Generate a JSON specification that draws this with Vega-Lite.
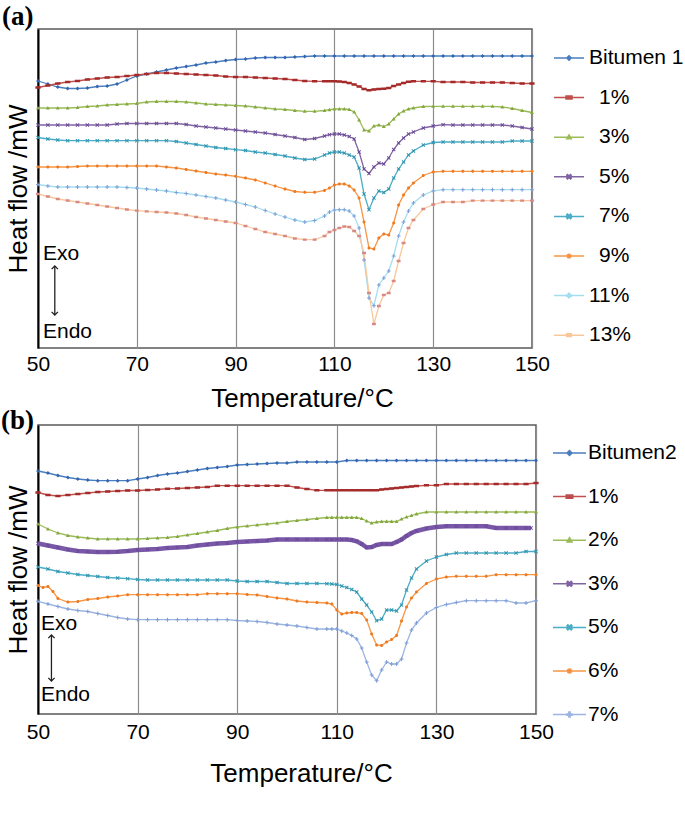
{
"$schema":"https://vega.github.io/schema/vega-lite/v6.json",
"background":"white",
"padding":{"left":0,"top":2,"right":0,"bottom":0},
"config":{"font":"Liberation Sans","view":{"stroke":"#5a5a5a","strokeWidth":1.5},
"axis":{"labelFont":"Liberation Sans","titleFont":"Liberation Sans","labelColor":"black","titleColor":"black","titleFontWeight":"normal"}},
"bounds":"flush","spacing":77,
"resolve":{"scale":{"stroke":"independent","fill":"independent","shape":"independent"},"legend":{"stroke":"independent"}},
"datasets":{
"a":[
{"s":"Bitumen 1","t":50,"h":267},{"s":"Bitumen 1","t":52,"h":264},{"s":"Bitumen 1","t":54,"h":261},{"s":"Bitumen 1","t":56,"h":259.5},{"s":"Bitumen 1","t":58,"h":259.5},{"s":"Bitumen 1","t":60,"h":260},{"s":"Bitumen 1","t":62,"h":261.5},{"s":"Bitumen 1","t":64,"h":262},{"s":"Bitumen 1","t":66,"h":264},{"s":"Bitumen 1","t":68,"h":268},{"s":"Bitumen 1","t":70,"h":272},{"s":"Bitumen 1","t":72,"h":274},{"s":"Bitumen 1","t":74,"h":276},{"s":"Bitumen 1","t":76,"h":278},{"s":"Bitumen 1","t":78,"h":280},{"s":"Bitumen 1","t":80,"h":281.5},{"s":"Bitumen 1","t":82,"h":283},{"s":"Bitumen 1","t":84,"h":285},{"s":"Bitumen 1","t":86,"h":286},{"s":"Bitumen 1","t":88,"h":287.5},{"s":"Bitumen 1","t":90,"h":288.5},{"s":"Bitumen 1","t":92,"h":289},{"s":"Bitumen 1","t":94,"h":290},{"s":"Bitumen 1","t":96,"h":290.5},{"s":"Bitumen 1","t":98,"h":290.5},{"s":"Bitumen 1","t":100,"h":290.5},{"s":"Bitumen 1","t":102,"h":291},{"s":"Bitumen 1","t":104,"h":291.5},{"s":"Bitumen 1","t":106,"h":292},{"s":"Bitumen 1","t":108,"h":292},{"s":"Bitumen 1","t":110,"h":292},{"s":"Bitumen 1","t":112,"h":292},{"s":"Bitumen 1","t":114,"h":292},{"s":"Bitumen 1","t":116,"h":292},{"s":"Bitumen 1","t":118,"h":292},{"s":"Bitumen 1","t":120,"h":292},{"s":"Bitumen 1","t":122,"h":292},{"s":"Bitumen 1","t":124,"h":292},{"s":"Bitumen 1","t":126,"h":292},{"s":"Bitumen 1","t":128,"h":292},{"s":"Bitumen 1","t":130,"h":292},{"s":"Bitumen 1","t":132,"h":292},{"s":"Bitumen 1","t":134,"h":292},{"s":"Bitumen 1","t":136,"h":292},{"s":"Bitumen 1","t":138,"h":292},{"s":"Bitumen 1","t":140,"h":292},{"s":"Bitumen 1","t":142,"h":292},{"s":"Bitumen 1","t":144,"h":292},{"s":"Bitumen 1","t":146,"h":292},{"s":"Bitumen 1","t":148,"h":292},{"s":"Bitumen 1","t":150,"h":292},
{"s":"1%","t":50,"h":260.5},{"s":"1%","t":52,"h":262.5},{"s":"1%","t":54,"h":264.5},{"s":"1%","t":56,"h":266},{"s":"1%","t":58,"h":267},{"s":"1%","t":60,"h":268.5},{"s":"1%","t":62,"h":269.5},{"s":"1%","t":64,"h":270.5},{"s":"1%","t":66,"h":271},{"s":"1%","t":68,"h":272},{"s":"1%","t":70,"h":273},{"s":"1%","t":72,"h":274},{"s":"1%","t":74,"h":275},{"s":"1%","t":76,"h":275},{"s":"1%","t":78,"h":274.5},{"s":"1%","t":80,"h":274},{"s":"1%","t":82,"h":273.5},{"s":"1%","t":84,"h":273},{"s":"1%","t":86,"h":272.5},{"s":"1%","t":88,"h":271.5},{"s":"1%","t":90,"h":271},{"s":"1%","t":92,"h":271},{"s":"1%","t":94,"h":270.5},{"s":"1%","t":96,"h":270},{"s":"1%","t":98,"h":269.5},{"s":"1%","t":100,"h":269},{"s":"1%","t":102,"h":268},{"s":"1%","t":104,"h":267},{"s":"1%","t":106,"h":266.7},{"s":"1%","t":108,"h":266.7},{"s":"1%","t":109,"h":266.7},{"s":"1%","t":110,"h":266.7},{"s":"1%","t":111,"h":266.5},{"s":"1%","t":112,"h":266},{"s":"1%","t":113,"h":265},{"s":"1%","t":114,"h":263.5},{"s":"1%","t":115,"h":261.5},{"s":"1%","t":116,"h":259},{"s":"1%","t":117,"h":257.7},{"s":"1%","t":118,"h":258.5},{"s":"1%","t":119,"h":259},{"s":"1%","t":120,"h":259.3},{"s":"1%","t":121,"h":260},{"s":"1%","t":122,"h":262},{"s":"1%","t":123,"h":263.5},{"s":"1%","t":124,"h":265},{"s":"1%","t":125,"h":266.2},{"s":"1%","t":126,"h":266.7},{"s":"1%","t":128,"h":266.7},{"s":"1%","t":130,"h":266.7},{"s":"1%","t":132,"h":266},{"s":"1%","t":134,"h":266},{"s":"1%","t":136,"h":266},{"s":"1%","t":138,"h":265.5},{"s":"1%","t":140,"h":265.5},{"s":"1%","t":142,"h":265.5},{"s":"1%","t":144,"h":265.5},{"s":"1%","t":146,"h":265},{"s":"1%","t":148,"h":264.5},{"s":"1%","t":150,"h":264.5},
{"s":"3%","t":50,"h":240},{"s":"3%","t":52,"h":240},{"s":"3%","t":54,"h":240},{"s":"3%","t":56,"h":240},{"s":"3%","t":58,"h":240.5},{"s":"3%","t":60,"h":241.5},{"s":"3%","t":62,"h":242},{"s":"3%","t":64,"h":243},{"s":"3%","t":66,"h":243.5},{"s":"3%","t":68,"h":244},{"s":"3%","t":70,"h":244.5},{"s":"3%","t":72,"h":246},{"s":"3%","t":74,"h":246.5},{"s":"3%","t":76,"h":246.5},{"s":"3%","t":78,"h":246.5},{"s":"3%","t":80,"h":246},{"s":"3%","t":82,"h":245},{"s":"3%","t":84,"h":244},{"s":"3%","t":86,"h":243.5},{"s":"3%","t":88,"h":243},{"s":"3%","t":90,"h":242.5},{"s":"3%","t":92,"h":242},{"s":"3%","t":94,"h":241},{"s":"3%","t":96,"h":240},{"s":"3%","t":98,"h":239},{"s":"3%","t":100,"h":238.5},{"s":"3%","t":102,"h":237.5},{"s":"3%","t":104,"h":236.7},{"s":"3%","t":106,"h":236.7},{"s":"3%","t":108,"h":237.5},{"s":"3%","t":109,"h":238.3},{"s":"3%","t":110,"h":239},{"s":"3%","t":111,"h":239},{"s":"3%","t":112,"h":239},{"s":"3%","t":113,"h":238.5},{"s":"3%","t":114,"h":236},{"s":"3%","t":115,"h":228},{"s":"3%","t":116,"h":218},{"s":"3%","t":117,"h":217},{"s":"3%","t":118,"h":222},{"s":"3%","t":119,"h":223},{"s":"3%","t":120,"h":221.5},{"s":"3%","t":121,"h":224},{"s":"3%","t":122,"h":229},{"s":"3%","t":123,"h":234},{"s":"3%","t":124,"h":237},{"s":"3%","t":125,"h":239},{"s":"3%","t":126,"h":240},{"s":"3%","t":128,"h":241.5},{"s":"3%","t":130,"h":241.7},{"s":"3%","t":132,"h":241.7},{"s":"3%","t":134,"h":241.7},{"s":"3%","t":136,"h":241.7},{"s":"3%","t":138,"h":241.7},{"s":"3%","t":140,"h":241.7},{"s":"3%","t":142,"h":241.7},{"s":"3%","t":144,"h":241},{"s":"3%","t":146,"h":239.5},{"s":"3%","t":148,"h":237.5},{"s":"3%","t":150,"h":235.5},
{"s":"5%","t":50,"h":223},{"s":"5%","t":52,"h":223},{"s":"5%","t":54,"h":223},{"s":"5%","t":56,"h":223},{"s":"5%","t":58,"h":223},{"s":"5%","t":60,"h":223},{"s":"5%","t":62,"h":223},{"s":"5%","t":64,"h":223},{"s":"5%","t":66,"h":224},{"s":"5%","t":68,"h":224.5},{"s":"5%","t":70,"h":224.5},{"s":"5%","t":72,"h":224.5},{"s":"5%","t":74,"h":224.5},{"s":"5%","t":76,"h":224.5},{"s":"5%","t":78,"h":224.5},{"s":"5%","t":80,"h":223.5},{"s":"5%","t":82,"h":222},{"s":"5%","t":84,"h":221},{"s":"5%","t":86,"h":220},{"s":"5%","t":88,"h":219},{"s":"5%","t":90,"h":218},{"s":"5%","t":92,"h":217},{"s":"5%","t":94,"h":216},{"s":"5%","t":96,"h":215},{"s":"5%","t":98,"h":213.5},{"s":"5%","t":100,"h":212},{"s":"5%","t":102,"h":210.5},{"s":"5%","t":104,"h":208.5},{"s":"5%","t":106,"h":209.5},{"s":"5%","t":108,"h":212},{"s":"5%","t":109,"h":213.3},{"s":"5%","t":110,"h":214},{"s":"5%","t":111,"h":214},{"s":"5%","t":112,"h":213},{"s":"5%","t":113,"h":211.5},{"s":"5%","t":114,"h":209},{"s":"5%","t":115,"h":196},{"s":"5%","t":116,"h":179},{"s":"5%","t":117,"h":174.5},{"s":"5%","t":118,"h":181},{"s":"5%","t":119,"h":185},{"s":"5%","t":120,"h":184},{"s":"5%","t":121,"h":190},{"s":"5%","t":122,"h":198.5},{"s":"5%","t":123,"h":205},{"s":"5%","t":124,"h":210},{"s":"5%","t":125,"h":214},{"s":"5%","t":126,"h":216},{"s":"5%","t":128,"h":220},{"s":"5%","t":130,"h":222},{"s":"5%","t":132,"h":223.3},{"s":"5%","t":134,"h":223},{"s":"5%","t":136,"h":223},{"s":"5%","t":138,"h":223},{"s":"5%","t":140,"h":223},{"s":"5%","t":142,"h":223},{"s":"5%","t":144,"h":223},{"s":"5%","t":146,"h":222},{"s":"5%","t":148,"h":220.5},{"s":"5%","t":150,"h":219},
{"s":"7%","t":50,"h":210.5},{"s":"7%","t":52,"h":209},{"s":"7%","t":54,"h":208},{"s":"7%","t":56,"h":207.3},{"s":"7%","t":58,"h":207.3},{"s":"7%","t":60,"h":207.3},{"s":"7%","t":62,"h":207.3},{"s":"7%","t":64,"h":207.3},{"s":"7%","t":66,"h":207.3},{"s":"7%","t":68,"h":207.3},{"s":"7%","t":70,"h":207.3},{"s":"7%","t":72,"h":207.3},{"s":"7%","t":74,"h":207.3},{"s":"7%","t":76,"h":207.3},{"s":"7%","t":78,"h":206.5},{"s":"7%","t":80,"h":205},{"s":"7%","t":82,"h":203.5},{"s":"7%","t":84,"h":202},{"s":"7%","t":86,"h":200.5},{"s":"7%","t":88,"h":199.5},{"s":"7%","t":90,"h":198.3},{"s":"7%","t":92,"h":197.5},{"s":"7%","t":94,"h":196},{"s":"7%","t":96,"h":195},{"s":"7%","t":98,"h":193.5},{"s":"7%","t":100,"h":192},{"s":"7%","t":102,"h":190},{"s":"7%","t":104,"h":188.5},{"s":"7%","t":106,"h":189},{"s":"7%","t":108,"h":193},{"s":"7%","t":109,"h":195},{"s":"7%","t":110,"h":196},{"s":"7%","t":111,"h":196},{"s":"7%","t":112,"h":195},{"s":"7%","t":113,"h":193},{"s":"7%","t":114,"h":191},{"s":"7%","t":115,"h":180},{"s":"7%","t":116,"h":154},{"s":"7%","t":117,"h":138.3},{"s":"7%","t":118,"h":150},{"s":"7%","t":119,"h":157},{"s":"7%","t":120,"h":155.5},{"s":"7%","t":121,"h":159},{"s":"7%","t":122,"h":170},{"s":"7%","t":123,"h":179},{"s":"7%","t":124,"h":186},{"s":"7%","t":125,"h":193},{"s":"7%","t":126,"h":197},{"s":"7%","t":128,"h":203},{"s":"7%","t":130,"h":205.5},{"s":"7%","t":132,"h":206},{"s":"7%","t":134,"h":206},{"s":"7%","t":136,"h":206},{"s":"7%","t":138,"h":206},{"s":"7%","t":140,"h":206},{"s":"7%","t":142,"h":206},{"s":"7%","t":144,"h":206},{"s":"7%","t":146,"h":207},{"s":"7%","t":148,"h":207},{"s":"7%","t":150,"h":207},
{"s":"9%","t":50,"h":181},{"s":"9%","t":52,"h":181},{"s":"9%","t":54,"h":181},{"s":"9%","t":56,"h":181},{"s":"9%","t":58,"h":181.5},{"s":"9%","t":60,"h":182},{"s":"9%","t":62,"h":182},{"s":"9%","t":64,"h":182},{"s":"9%","t":66,"h":182},{"s":"9%","t":68,"h":182},{"s":"9%","t":70,"h":182},{"s":"9%","t":72,"h":182},{"s":"9%","t":74,"h":182},{"s":"9%","t":76,"h":181},{"s":"9%","t":78,"h":180},{"s":"9%","t":80,"h":178.5},{"s":"9%","t":82,"h":177},{"s":"9%","t":84,"h":175.5},{"s":"9%","t":86,"h":174},{"s":"9%","t":88,"h":173},{"s":"9%","t":90,"h":171.7},{"s":"9%","t":92,"h":170},{"s":"9%","t":94,"h":168},{"s":"9%","t":96,"h":165},{"s":"9%","t":98,"h":162},{"s":"9%","t":100,"h":159},{"s":"9%","t":102,"h":156.5},{"s":"9%","t":104,"h":155.7},{"s":"9%","t":106,"h":155.7},{"s":"9%","t":108,"h":157.5},{"s":"9%","t":109,"h":160},{"s":"9%","t":110,"h":163},{"s":"9%","t":111,"h":164},{"s":"9%","t":112,"h":164},{"s":"9%","t":113,"h":162},{"s":"9%","t":114,"h":158},{"s":"9%","t":115,"h":150},{"s":"9%","t":116,"h":126},{"s":"9%","t":117,"h":100},{"s":"9%","t":118,"h":99},{"s":"9%","t":119,"h":110},{"s":"9%","t":120,"h":114},{"s":"9%","t":121,"h":113},{"s":"9%","t":122,"h":125},{"s":"9%","t":123,"h":143},{"s":"9%","t":124,"h":153},{"s":"9%","t":125,"h":160},{"s":"9%","t":126,"h":165},{"s":"9%","t":128,"h":172.5},{"s":"9%","t":130,"h":176},{"s":"9%","t":132,"h":176.7},{"s":"9%","t":134,"h":176.7},{"s":"9%","t":136,"h":176.7},{"s":"9%","t":138,"h":176.7},{"s":"9%","t":140,"h":176.7},{"s":"9%","t":142,"h":176.7},{"s":"9%","t":144,"h":176.7},{"s":"9%","t":146,"h":176.7},{"s":"9%","t":148,"h":176.7},{"s":"9%","t":150,"h":176.7},
{"s":"11%","t":50,"h":163.5},{"s":"11%","t":52,"h":162},{"s":"11%","t":54,"h":161},{"s":"11%","t":56,"h":161},{"s":"11%","t":58,"h":161},{"s":"11%","t":60,"h":161},{"s":"11%","t":62,"h":161},{"s":"11%","t":64,"h":161},{"s":"11%","t":66,"h":161},{"s":"11%","t":68,"h":160.5},{"s":"11%","t":70,"h":160},{"s":"11%","t":72,"h":159},{"s":"11%","t":74,"h":158},{"s":"11%","t":76,"h":157},{"s":"11%","t":78,"h":155.5},{"s":"11%","t":80,"h":154.5},{"s":"11%","t":82,"h":153},{"s":"11%","t":84,"h":151.5},{"s":"11%","t":86,"h":150},{"s":"11%","t":88,"h":148},{"s":"11%","t":90,"h":146},{"s":"11%","t":92,"h":143.5},{"s":"11%","t":94,"h":141},{"s":"11%","t":96,"h":137.5},{"s":"11%","t":98,"h":134},{"s":"11%","t":100,"h":131},{"s":"11%","t":102,"h":128},{"s":"11%","t":104,"h":126},{"s":"11%","t":106,"h":127.5},{"s":"11%","t":108,"h":132},{"s":"11%","t":109,"h":136},{"s":"11%","t":110,"h":138},{"s":"11%","t":111,"h":138.3},{"s":"11%","t":112,"h":138.3},{"s":"11%","t":113,"h":137},{"s":"11%","t":114,"h":132},{"s":"11%","t":115,"h":120},{"s":"11%","t":116,"h":88},{"s":"11%","t":117,"h":50},{"s":"11%","t":118,"h":42.3},{"s":"11%","t":119,"h":63},{"s":"11%","t":120,"h":70},{"s":"11%","t":121,"h":77},{"s":"11%","t":122,"h":92},{"s":"11%","t":123,"h":112},{"s":"11%","t":124,"h":126},{"s":"11%","t":125,"h":137},{"s":"11%","t":126,"h":145},{"s":"11%","t":128,"h":153},{"s":"11%","t":130,"h":157},{"s":"11%","t":132,"h":158.3},{"s":"11%","t":134,"h":158.3},{"s":"11%","t":136,"h":158.3},{"s":"11%","t":138,"h":158.3},{"s":"11%","t":140,"h":158.3},{"s":"11%","t":142,"h":158.3},{"s":"11%","t":144,"h":158.3},{"s":"11%","t":146,"h":158.3},{"s":"11%","t":148,"h":158.3},{"s":"11%","t":150,"h":158.3},
{"s":"13%","t":50,"h":154},{"s":"13%","t":52,"h":151.5},{"s":"13%","t":54,"h":149},{"s":"13%","t":56,"h":147.5},{"s":"13%","t":58,"h":146},{"s":"13%","t":60,"h":144.5},{"s":"13%","t":62,"h":143},{"s":"13%","t":64,"h":141.5},{"s":"13%","t":66,"h":140},{"s":"13%","t":68,"h":138.5},{"s":"13%","t":70,"h":137.3},{"s":"13%","t":72,"h":136.7},{"s":"13%","t":74,"h":136},{"s":"13%","t":76,"h":135.5},{"s":"13%","t":78,"h":134.5},{"s":"13%","t":80,"h":133},{"s":"13%","t":82,"h":131},{"s":"13%","t":84,"h":129.5},{"s":"13%","t":86,"h":128},{"s":"13%","t":88,"h":126.5},{"s":"13%","t":90,"h":125},{"s":"13%","t":92,"h":122},{"s":"13%","t":94,"h":119},{"s":"13%","t":96,"h":116},{"s":"13%","t":98,"h":114},{"s":"13%","t":100,"h":112},{"s":"13%","t":102,"h":109.5},{"s":"13%","t":104,"h":108.3},{"s":"13%","t":106,"h":108.3},{"s":"13%","t":108,"h":112},{"s":"13%","t":109,"h":116},{"s":"13%","t":110,"h":118},{"s":"13%","t":111,"h":120},{"s":"13%","t":112,"h":121.5},{"s":"13%","t":113,"h":121},{"s":"13%","t":114,"h":117},{"s":"13%","t":115,"h":112},{"s":"13%","t":116,"h":95},{"s":"13%","t":117,"h":55},{"s":"13%","t":118,"h":24},{"s":"13%","t":119,"h":42},{"s":"13%","t":120,"h":53},{"s":"13%","t":121,"h":55},{"s":"13%","t":122,"h":67},{"s":"13%","t":123,"h":87},{"s":"13%","t":124,"h":105},{"s":"13%","t":125,"h":120},{"s":"13%","t":126,"h":128},{"s":"13%","t":128,"h":139},{"s":"13%","t":130,"h":143.5},{"s":"13%","t":132,"h":146},{"s":"13%","t":134,"h":146},{"s":"13%","t":136,"h":146},{"s":"13%","t":138,"h":147.3},{"s":"13%","t":140,"h":147.3},{"s":"13%","t":142,"h":147.3},{"s":"13%","t":144,"h":147.3},{"s":"13%","t":146,"h":147.3},{"s":"13%","t":148,"h":147.3},{"s":"13%","t":150,"h":147.3}
],
"b":[
{"s":"Bitumen2","t":50,"h":243},{"s":"Bitumen2","t":52,"h":241},{"s":"Bitumen2","t":54,"h":238.5},{"s":"Bitumen2","t":56,"h":236.5},{"s":"Bitumen2","t":58,"h":235},{"s":"Bitumen2","t":60,"h":234},{"s":"Bitumen2","t":62,"h":233.3},{"s":"Bitumen2","t":64,"h":233.3},{"s":"Bitumen2","t":66,"h":233.3},{"s":"Bitumen2","t":68,"h":233.3},{"s":"Bitumen2","t":70,"h":235},{"s":"Bitumen2","t":72,"h":236.5},{"s":"Bitumen2","t":74,"h":238.5},{"s":"Bitumen2","t":76,"h":240},{"s":"Bitumen2","t":78,"h":241},{"s":"Bitumen2","t":80,"h":242.5},{"s":"Bitumen2","t":82,"h":244},{"s":"Bitumen2","t":84,"h":245.5},{"s":"Bitumen2","t":86,"h":246.5},{"s":"Bitumen2","t":88,"h":247.5},{"s":"Bitumen2","t":90,"h":249},{"s":"Bitumen2","t":92,"h":249.5},{"s":"Bitumen2","t":94,"h":250},{"s":"Bitumen2","t":96,"h":250.5},{"s":"Bitumen2","t":98,"h":251},{"s":"Bitumen2","t":100,"h":251},{"s":"Bitumen2","t":102,"h":252},{"s":"Bitumen2","t":104,"h":252},{"s":"Bitumen2","t":106,"h":252},{"s":"Bitumen2","t":108,"h":252},{"s":"Bitumen2","t":110,"h":252},{"s":"Bitumen2","t":112,"h":253.5},{"s":"Bitumen2","t":114,"h":253.5},{"s":"Bitumen2","t":116,"h":253.5},{"s":"Bitumen2","t":118,"h":253.5},{"s":"Bitumen2","t":120,"h":253.5},{"s":"Bitumen2","t":122,"h":253.5},{"s":"Bitumen2","t":124,"h":253.5},{"s":"Bitumen2","t":126,"h":253.5},{"s":"Bitumen2","t":128,"h":253.5},{"s":"Bitumen2","t":130,"h":253.5},{"s":"Bitumen2","t":132,"h":253.5},{"s":"Bitumen2","t":134,"h":253.5},{"s":"Bitumen2","t":136,"h":253.5},{"s":"Bitumen2","t":138,"h":253.5},{"s":"Bitumen2","t":140,"h":253.5},{"s":"Bitumen2","t":142,"h":253.5},{"s":"Bitumen2","t":144,"h":253.5},{"s":"Bitumen2","t":146,"h":253.5},{"s":"Bitumen2","t":148,"h":253.5},{"s":"Bitumen2","t":150,"h":253.5},
{"s":"1%","t":50,"h":221.5},{"s":"1%","t":52,"h":219},{"s":"1%","t":54,"h":218},{"s":"1%","t":56,"h":219},{"s":"1%","t":58,"h":220},{"s":"1%","t":60,"h":221},{"s":"1%","t":62,"h":222},{"s":"1%","t":64,"h":222.5},{"s":"1%","t":66,"h":223},{"s":"1%","t":68,"h":223.5},{"s":"1%","t":70,"h":223.5},{"s":"1%","t":72,"h":224},{"s":"1%","t":74,"h":224.5},{"s":"1%","t":76,"h":225.3},{"s":"1%","t":78,"h":225.5},{"s":"1%","t":80,"h":226},{"s":"1%","t":82,"h":226.5},{"s":"1%","t":84,"h":227},{"s":"1%","t":86,"h":228.3},{"s":"1%","t":88,"h":228.3},{"s":"1%","t":90,"h":228.3},{"s":"1%","t":92,"h":228.3},{"s":"1%","t":94,"h":228.3},{"s":"1%","t":96,"h":228.3},{"s":"1%","t":98,"h":228.3},{"s":"1%","t":100,"h":228.3},{"s":"1%","t":102,"h":226.5},{"s":"1%","t":104,"h":225},{"s":"1%","t":106,"h":223.7},{"s":"1%","t":108,"h":223.7},{"s":"1%","t":109,"h":223.7},{"s":"1%","t":110,"h":223.7},{"s":"1%","t":111,"h":223.7},{"s":"1%","t":112,"h":223.7},{"s":"1%","t":113,"h":223.7},{"s":"1%","t":114,"h":223.7},{"s":"1%","t":115,"h":223.7},{"s":"1%","t":116,"h":223.7},{"s":"1%","t":117,"h":223.7},{"s":"1%","t":118,"h":223.7},{"s":"1%","t":119,"h":224.5},{"s":"1%","t":120,"h":225},{"s":"1%","t":121,"h":225.5},{"s":"1%","t":122,"h":226},{"s":"1%","t":123,"h":226.5},{"s":"1%","t":124,"h":227},{"s":"1%","t":125,"h":227.5},{"s":"1%","t":126,"h":228},{"s":"1%","t":128,"h":228.7},{"s":"1%","t":130,"h":228.7},{"s":"1%","t":132,"h":230},{"s":"1%","t":134,"h":230},{"s":"1%","t":136,"h":230},{"s":"1%","t":138,"h":230},{"s":"1%","t":140,"h":230},{"s":"1%","t":142,"h":230},{"s":"1%","t":144,"h":230},{"s":"1%","t":146,"h":230},{"s":"1%","t":148,"h":230},{"s":"1%","t":150,"h":231},
{"s":"2%","t":50,"h":190},{"s":"2%","t":52,"h":185},{"s":"2%","t":54,"h":181},{"s":"2%","t":56,"h":178.5},{"s":"2%","t":58,"h":177},{"s":"2%","t":60,"h":176},{"s":"2%","t":62,"h":175},{"s":"2%","t":64,"h":175},{"s":"2%","t":66,"h":175},{"s":"2%","t":68,"h":175},{"s":"2%","t":70,"h":175},{"s":"2%","t":72,"h":175.5},{"s":"2%","t":74,"h":176},{"s":"2%","t":76,"h":176.5},{"s":"2%","t":78,"h":177.5},{"s":"2%","t":80,"h":179},{"s":"2%","t":82,"h":180.5},{"s":"2%","t":84,"h":182},{"s":"2%","t":86,"h":183.5},{"s":"2%","t":88,"h":185.5},{"s":"2%","t":90,"h":187},{"s":"2%","t":92,"h":188},{"s":"2%","t":94,"h":189},{"s":"2%","t":96,"h":190},{"s":"2%","t":98,"h":191},{"s":"2%","t":100,"h":192.5},{"s":"2%","t":102,"h":193.5},{"s":"2%","t":104,"h":194.5},{"s":"2%","t":106,"h":195.5},{"s":"2%","t":108,"h":196.5},{"s":"2%","t":109,"h":196.5},{"s":"2%","t":110,"h":196.5},{"s":"2%","t":111,"h":196.5},{"s":"2%","t":112,"h":196.5},{"s":"2%","t":113,"h":196.5},{"s":"2%","t":114,"h":196.5},{"s":"2%","t":115,"h":195.5},{"s":"2%","t":116,"h":193},{"s":"2%","t":117,"h":191},{"s":"2%","t":118,"h":192},{"s":"2%","t":119,"h":192.5},{"s":"2%","t":120,"h":192.5},{"s":"2%","t":121,"h":192.5},{"s":"2%","t":122,"h":192.5},{"s":"2%","t":123,"h":195},{"s":"2%","t":124,"h":197},{"s":"2%","t":125,"h":198.5},{"s":"2%","t":126,"h":200},{"s":"2%","t":128,"h":202},{"s":"2%","t":130,"h":202},{"s":"2%","t":132,"h":202},{"s":"2%","t":134,"h":202},{"s":"2%","t":136,"h":202},{"s":"2%","t":138,"h":202},{"s":"2%","t":140,"h":202},{"s":"2%","t":142,"h":202},{"s":"2%","t":144,"h":202},{"s":"2%","t":146,"h":202},{"s":"2%","t":148,"h":202},{"s":"2%","t":150,"h":202},
{"s":"3%","t":50,"h":170.5},{"s":"3%","t":52,"h":168.5},{"s":"3%","t":54,"h":166.5},{"s":"3%","t":56,"h":164.5},{"s":"3%","t":58,"h":163},{"s":"3%","t":60,"h":162.5},{"s":"3%","t":62,"h":162},{"s":"3%","t":64,"h":162},{"s":"3%","t":66,"h":162.3},{"s":"3%","t":68,"h":163},{"s":"3%","t":70,"h":164},{"s":"3%","t":72,"h":164.5},{"s":"3%","t":74,"h":165},{"s":"3%","t":76,"h":166},{"s":"3%","t":78,"h":166.5},{"s":"3%","t":80,"h":167},{"s":"3%","t":82,"h":168.5},{"s":"3%","t":84,"h":169.5},{"s":"3%","t":86,"h":170.5},{"s":"3%","t":88,"h":171},{"s":"3%","t":90,"h":172},{"s":"3%","t":92,"h":172.5},{"s":"3%","t":94,"h":173},{"s":"3%","t":96,"h":173.5},{"s":"3%","t":98,"h":174.5},{"s":"3%","t":100,"h":174.5},{"s":"3%","t":102,"h":174.5},{"s":"3%","t":104,"h":174.5},{"s":"3%","t":106,"h":174.5},{"s":"3%","t":108,"h":174.5},{"s":"3%","t":109,"h":174.5},{"s":"3%","t":110,"h":174.5},{"s":"3%","t":111,"h":174.5},{"s":"3%","t":112,"h":174.5},{"s":"3%","t":113,"h":174},{"s":"3%","t":114,"h":172.7},{"s":"3%","t":115,"h":170},{"s":"3%","t":116,"h":166.5},{"s":"3%","t":117,"h":167},{"s":"3%","t":118,"h":169},{"s":"3%","t":119,"h":170},{"s":"3%","t":120,"h":170},{"s":"3%","t":121,"h":170},{"s":"3%","t":122,"h":172},{"s":"3%","t":123,"h":174.5},{"s":"3%","t":124,"h":178},{"s":"3%","t":125,"h":181},{"s":"3%","t":126,"h":183},{"s":"3%","t":128,"h":185.5},{"s":"3%","t":130,"h":187},{"s":"3%","t":132,"h":187.7},{"s":"3%","t":134,"h":187.7},{"s":"3%","t":136,"h":187.7},{"s":"3%","t":138,"h":187.7},{"s":"3%","t":140,"h":187.7},{"s":"3%","t":142,"h":186},{"s":"3%","t":144,"h":186},{"s":"3%","t":146,"h":186},{"s":"3%","t":148,"h":186},{"s":"3%","t":149,"h":186},
{"s":"5%","t":50,"h":147},{"s":"5%","t":52,"h":145},{"s":"5%","t":54,"h":142.5},{"s":"5%","t":56,"h":141},{"s":"5%","t":58,"h":139.5},{"s":"5%","t":60,"h":138.5},{"s":"5%","t":62,"h":137.5},{"s":"5%","t":64,"h":136.5},{"s":"5%","t":66,"h":136},{"s":"5%","t":68,"h":135.3},{"s":"5%","t":70,"h":134.5},{"s":"5%","t":72,"h":134},{"s":"5%","t":74,"h":134},{"s":"5%","t":76,"h":134},{"s":"5%","t":78,"h":134},{"s":"5%","t":80,"h":134},{"s":"5%","t":82,"h":134},{"s":"5%","t":84,"h":134},{"s":"5%","t":86,"h":134},{"s":"5%","t":88,"h":134},{"s":"5%","t":90,"h":133},{"s":"5%","t":92,"h":132.5},{"s":"5%","t":94,"h":132.5},{"s":"5%","t":96,"h":132.5},{"s":"5%","t":98,"h":131.5},{"s":"5%","t":100,"h":130.5},{"s":"5%","t":102,"h":130.5},{"s":"5%","t":104,"h":130.5},{"s":"5%","t":106,"h":130.5},{"s":"5%","t":108,"h":130.3},{"s":"5%","t":109,"h":130},{"s":"5%","t":110,"h":129.5},{"s":"5%","t":111,"h":128},{"s":"5%","t":112,"h":126.5},{"s":"5%","t":113,"h":124.5},{"s":"5%","t":114,"h":122},{"s":"5%","t":115,"h":115},{"s":"5%","t":116,"h":109},{"s":"5%","t":117,"h":102},{"s":"5%","t":118,"h":93.3},{"s":"5%","t":119,"h":95},{"s":"5%","t":120,"h":104},{"s":"5%","t":121,"h":104},{"s":"5%","t":122,"h":103},{"s":"5%","t":123,"h":109},{"s":"5%","t":124,"h":124},{"s":"5%","t":125,"h":136},{"s":"5%","t":126,"h":145},{"s":"5%","t":128,"h":153},{"s":"5%","t":130,"h":157},{"s":"5%","t":132,"h":159.5},{"s":"5%","t":134,"h":161},{"s":"5%","t":136,"h":161},{"s":"5%","t":138,"h":161},{"s":"5%","t":140,"h":161},{"s":"5%","t":142,"h":161},{"s":"5%","t":144,"h":161},{"s":"5%","t":146,"h":161},{"s":"5%","t":148,"h":162.5},{"s":"5%","t":150,"h":162.5},
{"s":"6%","t":50,"h":128.5},{"s":"6%","t":51,"h":126.5},{"s":"6%","t":52,"h":127.5},{"s":"6%","t":53,"h":122.5},{"s":"6%","t":54,"h":115.5},{"s":"6%","t":56,"h":112},{"s":"6%","t":58,"h":112.5},{"s":"6%","t":60,"h":114.5},{"s":"6%","t":62,"h":115.5},{"s":"6%","t":64,"h":117},{"s":"6%","t":66,"h":118},{"s":"6%","t":68,"h":119.3},{"s":"6%","t":70,"h":119.3},{"s":"6%","t":72,"h":119.3},{"s":"6%","t":74,"h":119.3},{"s":"6%","t":76,"h":119.3},{"s":"6%","t":78,"h":119.3},{"s":"6%","t":80,"h":119.3},{"s":"6%","t":82,"h":119.3},{"s":"6%","t":84,"h":120.3},{"s":"6%","t":86,"h":120.3},{"s":"6%","t":88,"h":120.3},{"s":"6%","t":90,"h":120.3},{"s":"6%","t":92,"h":119.5},{"s":"6%","t":94,"h":119},{"s":"6%","t":96,"h":117.5},{"s":"6%","t":98,"h":116},{"s":"6%","t":100,"h":115},{"s":"6%","t":102,"h":113},{"s":"6%","t":104,"h":112},{"s":"6%","t":106,"h":111.5},{"s":"6%","t":108,"h":111},{"s":"6%","t":109,"h":110},{"s":"6%","t":110,"h":104},{"s":"6%","t":111,"h":100},{"s":"6%","t":112,"h":101},{"s":"6%","t":113,"h":101.5},{"s":"6%","t":114,"h":101.5},{"s":"6%","t":115,"h":100.5},{"s":"6%","t":116,"h":94},{"s":"6%","t":117,"h":80},{"s":"6%","t":118,"h":69},{"s":"6%","t":119,"h":68.5},{"s":"6%","t":120,"h":72},{"s":"6%","t":121,"h":74.5},{"s":"6%","t":122,"h":78.5},{"s":"6%","t":123,"h":93},{"s":"6%","t":124,"h":107},{"s":"6%","t":125,"h":116},{"s":"6%","t":126,"h":122},{"s":"6%","t":128,"h":130.5},{"s":"6%","t":130,"h":135},{"s":"6%","t":132,"h":137},{"s":"6%","t":134,"h":137.7},{"s":"6%","t":136,"h":137.7},{"s":"6%","t":138,"h":137.7},{"s":"6%","t":140,"h":137.7},{"s":"6%","t":142,"h":139.3},{"s":"6%","t":144,"h":139.3},{"s":"6%","t":146,"h":139.3},{"s":"6%","t":148,"h":139.3},{"s":"6%","t":150,"h":139.3},
{"s":"7%","t":50,"h":112.7},{"s":"7%","t":52,"h":110},{"s":"7%","t":54,"h":107.5},{"s":"7%","t":56,"h":105},{"s":"7%","t":58,"h":103.5},{"s":"7%","t":60,"h":102.5},{"s":"7%","t":62,"h":100.5},{"s":"7%","t":64,"h":98.5},{"s":"7%","t":66,"h":96.5},{"s":"7%","t":68,"h":95},{"s":"7%","t":70,"h":94.3},{"s":"7%","t":72,"h":94.3},{"s":"7%","t":74,"h":94.3},{"s":"7%","t":76,"h":94.3},{"s":"7%","t":78,"h":94.3},{"s":"7%","t":80,"h":94.3},{"s":"7%","t":82,"h":94.3},{"s":"7%","t":84,"h":94.3},{"s":"7%","t":86,"h":94.3},{"s":"7%","t":88,"h":94.3},{"s":"7%","t":90,"h":93.5},{"s":"7%","t":92,"h":93},{"s":"7%","t":94,"h":92.5},{"s":"7%","t":96,"h":91.5},{"s":"7%","t":98,"h":90},{"s":"7%","t":100,"h":89},{"s":"7%","t":102,"h":88},{"s":"7%","t":104,"h":86.5},{"s":"7%","t":106,"h":85},{"s":"7%","t":108,"h":85},{"s":"7%","t":109,"h":85},{"s":"7%","t":110,"h":85},{"s":"7%","t":111,"h":83},{"s":"7%","t":112,"h":81},{"s":"7%","t":113,"h":78.5},{"s":"7%","t":114,"h":75},{"s":"7%","t":115,"h":66},{"s":"7%","t":116,"h":52},{"s":"7%","t":117,"h":39},{"s":"7%","t":118,"h":33.3},{"s":"7%","t":119,"h":44},{"s":"7%","t":120,"h":52},{"s":"7%","t":121,"h":50},{"s":"7%","t":122,"h":50},{"s":"7%","t":123,"h":55},{"s":"7%","t":124,"h":71},{"s":"7%","t":125,"h":84},{"s":"7%","t":126,"h":91},{"s":"7%","t":128,"h":101},{"s":"7%","t":130,"h":106.5},{"s":"7%","t":132,"h":109.5},{"s":"7%","t":134,"h":111.5},{"s":"7%","t":136,"h":113.3},{"s":"7%","t":138,"h":113.3},{"s":"7%","t":140,"h":113.3},{"s":"7%","t":142,"h":113.3},{"s":"7%","t":144,"h":113.3},{"s":"7%","t":146,"h":111},{"s":"7%","t":148,"h":111},{"s":"7%","t":150,"h":113.3}
]},
"vconcat":[
{"width":494,"height":319,
"title":{"text":"(a)","anchor":"start","frame":"group","dx":-36,"offset":-23,"baseline":"alphabetic","font":"Liberation Serif","fontSize":27,"fontWeight":"bold","color":"black"},
"encoding":{
"x":{"field":"t","type":"quantitative","scale":{"domain":[50,150],"nice":false,"zero":false},"axis":{"title":"Temperature/°C","values":[50,70,90,110,130,150],"grid":true,"gridColor":"#8c8c8c","gridWidth":1.2,"ticks":false,"domain":false,"labelFlush":false,"labelFontSize":21,"labelPadding":5,"titleFontSize":26,"titlePadding":11,"titleX":264}},
"y":{"field":"h","type":"quantitative","scale":{"domain":[0,319],"nice":false,"zero":false},"axis":{"title":"Heat flow /mW","labels":false,"ticks":false,"grid":false,"domain":true,"domainColor":"black","domainWidth":2,"titleFontSize":26,"titlePadding":7}}},
"layer":[
{"data":{"name":"a"},"mark":{"type":"line","strokeWidth":1.3},
"encoding":{"stroke":{"field":"s","type":"nominal","scale":{"domain":["Bitumen 1","1%","3%","5%","7%","9%","11%","13%"],"range":["#4A7EBF","#C0504D","#9BBB59","#8064A2","#4BACC6","#F79646","#A5DDF0","#F9C89A"]},
"legend":{"orient":"none","legendX":515,"legendY":13,"title":null,"symbolSize":900,"symbolStrokeWidth":1.5,"labelFontSize":21,"labelFont":"Liberation Sans","labelColor":"black","labelOffset":4,"rowPadding":13.6,"padding":0,
"encode":{"labels":{"update":{"dx":{"signal":"length(datum.label) == 2 ? 10 : 0"}}}}}}}},
{"data":{"name":"a"},"mark":{"type":"point","filled":true,"size":676,"opacity":1},
"encoding":{"fill":{"field":"s","type":"nominal","scale":{"domain":["Bitumen 1","1%","3%","5%","7%","9%","11%","13%"],"range":["#3466B0","#A52A2A","#84A83E","#6B4A98","#2F93AD","#EE7A22","#7F9ED8","#D98888"]},"legend":null},
"shape":{"field":"s","type":"nominal","scale":{"domain":["Bitumen 1","1%","3%","5%","7%","9%","11%","13%"],"range":["M-1,0H1M0,-0.15L0.15,0L0,0.15L-0.15,0Z","M-1,0H1M-0.2,-0.1H0.2V0.1H-0.2Z","M-1,0H1M0,-0.15L0.15,0.11H-0.15Z","M-1,0H1M-0.15,-0.1L-0.1,-0.15L0,-0.05L0.1,-0.15L0.15,-0.1L0.05,0L0.15,0.1L0.1,0.15L0,0.05L-0.1,0.15L-0.15,0.1L-0.05,0Z","M-1,0H1M-0.15,-0.1L-0.1,-0.15L0,-0.05L0.1,-0.15L0.15,-0.1L0.05,0L0.15,0.1L0.1,0.15L0,0.05L-0.1,0.15L-0.15,0.1L-0.05,0Z","M-1,0H1M-0.12,0A0.12,0.12 0 1,0 0.12,0A0.12,0.12 0 1,0 -0.12,0Z","M-1,0H1M-0.04,-0.15H0.04V-0.04H0.15V0.04H0.04V0.15H-0.04V0.04H-0.15V-0.04H-0.04Z","M-1,0H1M-0.15,-0.09H0.15V0.09H-0.15Z"]},"legend":null}}},
{"data":{"values":[{"t":51,"h":88,"txt":"Exo"},{"t":51,"h":10,"txt":"Endo"}]},"mark":{"type":"text","align":"left","baseline":"alphabetic","fontSize":21,"font":"Liberation Sans","color":"black"},"encoding":{"text":{"field":"txt"}}},
{"data":{"values":[{"t":53.4,"h":82,"h2":33}]},"mark":{"type":"rule","color":"#222","strokeWidth":1.3},"encoding":{"y2":{"field":"h2"}}},
{"data":{"values":[{"t":53.4,"h":82}]},"mark":{"type":"point","shape":"M-1,1L0,0L1,1","filled":false,"size":40,"color":"#222","strokeWidth":1.3,"opacity":1}},
{"data":{"values":[{"t":53.4,"h":33}]},"mark":{"type":"point","shape":"M-1,-1L0,0L1,-1","filled":false,"size":40,"color":"#222","strokeWidth":1.3,"opacity":1}}
]},
{"width":498,"height":289,
"title":{"text":"(b)","anchor":"start","frame":"group","dx":-37,"offset":-31,"baseline":"alphabetic","font":"Liberation Serif","fontSize":27,"fontWeight":"bold","color":"black"},
"encoding":{
"x":{"field":"t","type":"quantitative","scale":{"domain":[50,150],"nice":false,"zero":false},"axis":{"title":"Temperature/°C","values":[50,70,90,110,130,150],"grid":true,"gridColor":"#8c8c8c","gridWidth":1.2,"ticks":false,"domain":false,"labelFlush":false,"labelFontSize":21,"labelPadding":7,"titleFontSize":26,"titlePadding":18,"titleX":263}},
"y":{"field":"h","type":"quantitative","scale":{"domain":[0,289],"nice":false,"zero":false},"axis":{"title":"Heat flow /mW","labels":false,"ticks":false,"grid":false,"domain":true,"domainColor":"black","domainWidth":2,"titleFontSize":26,"titlePadding":7}}},
"layer":[
{"data":{"name":"b"},"mark":{"type":"line","strokeWidth":1.3},
"encoding":{"stroke":{"field":"s","type":"nominal","scale":{"domain":["Bitumen2","1%","2%","3%","5%","6%","7%"],"range":["#4A7EBF","#C0504D","#9BBB59","#8064A2","#4BACC6","#F79646","#9DB5E0"]},
"legend":{"orient":"none","legendX":514,"legendY":10.5,"title":null,"symbolSize":1089,"symbolStrokeWidth":1.5,"labelFontSize":21,"labelFont":"Liberation Sans","labelColor":"black","labelOffset":1,"rowPadding":15.6,"padding":0}}}},
{"data":{"name":"b"},"transform":[{"filter":"datum.s == '3%'"}],"mark":{"type":"line","strokeWidth":4.5,"color":"#7A58A8"}},
{"data":{"name":"b"},"mark":{"type":"point","filled":true,"size":676,"opacity":1},
"encoding":{"fill":{"field":"s","type":"nominal","scale":{"domain":["Bitumen2","1%","2%","3%","5%","6%","7%"],"range":["#3466B0","#A52A2A","#84A83E","#6B4A98","#2F93AD","#EE7A22","#7F9ED8"]},"legend":null},
"shape":{"field":"s","type":"nominal","scale":{"domain":["Bitumen2","1%","2%","3%","5%","6%","7%"],"range":["M-1,0H1M0,-0.15L0.15,0L0,0.15L-0.15,0Z","M-1,0H1M-0.2,-0.1H0.2V0.1H-0.2Z","M-1,0H1M0,-0.15L0.15,0.11H-0.15Z","M-1,0H1M-0.15,-0.1L-0.1,-0.15L0,-0.05L0.1,-0.15L0.15,-0.1L0.05,0L0.15,0.1L0.1,0.15L0,0.05L-0.1,0.15L-0.15,0.1L-0.05,0Z","M-1,0H1M-0.15,-0.1L-0.1,-0.15L0,-0.05L0.1,-0.15L0.15,-0.1L0.05,0L0.15,0.1L0.1,0.15L0,0.05L-0.1,0.15L-0.15,0.1L-0.05,0Z","M-1,0H1M-0.12,0A0.12,0.12 0 1,0 0.12,0A0.12,0.12 0 1,0 -0.12,0Z","M-1,0H1M-0.04,-0.15H0.04V-0.04H0.15V0.04H0.04V0.15H-0.04V0.04H-0.15V-0.04H-0.04Z"]},"legend":null}}},
{"data":{"values":[{"t":50.6,"h":84,"txt":"Exo"},{"t":50.6,"h":13,"txt":"Endo"}]},"mark":{"type":"text","align":"left","baseline":"alphabetic","fontSize":21,"font":"Liberation Sans","color":"black"},"encoding":{"text":{"field":"txt"}}},
{"data":{"values":[{"t":52.7,"h":79,"h2":33}]},"mark":{"type":"rule","color":"#222","strokeWidth":1.3},"encoding":{"y2":{"field":"h2"}}},
{"data":{"values":[{"t":52.7,"h":79}]},"mark":{"type":"point","shape":"M-1,1L0,0L1,1","filled":false,"size":40,"color":"#222","strokeWidth":1.3,"opacity":1}},
{"data":{"values":[{"t":52.7,"h":33}]},"mark":{"type":"point","shape":"M-1,-1L0,0L1,-1","filled":false,"size":40,"color":"#222","strokeWidth":1.3,"opacity":1}}
]}
]}
